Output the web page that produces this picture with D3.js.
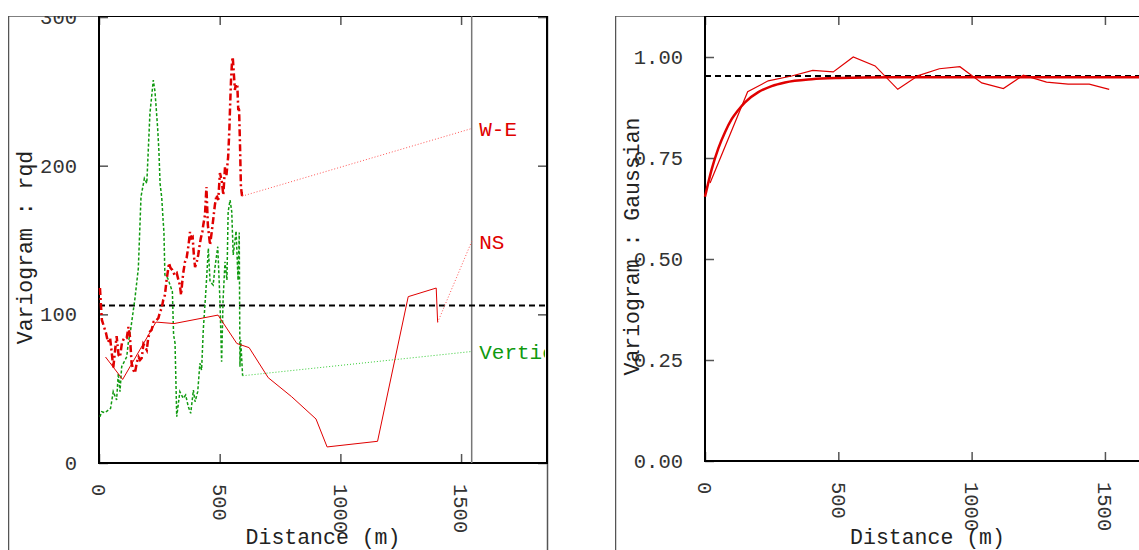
<!DOCTYPE html>
<html lang='en'>
<head>
<meta charset='utf8'>
<title>Variograms</title>
<script type="text/javascript" src="https://cdn.jsdelivr.net/npm/d3@7"></script>
<style>
    body { margin: 0; background: #fff; }
    svg text { font-family: 'Liberation Mono', 'DejaVu Sans Mono', monospace; }
</style>
</head>
<body>
<svg id='chart' width='1139' height='550'></svg>
<script type="text/javascript">
    // ---- left panel: rqd experimental variograms (distance m, gamma) ----
    var weData = [[4,117.7],[8,106.3],[12,96.2],[21,91.5],[29,87.4],[37,81.4],[46,84.1],[53,74.0],[59,63.9],[66,74.7],
        [73,85.4],[81,72.6],[87,71.3],[95,80.7],[104,84.1],[115,84.1],[122,91.5],[128,85.4],[135,67.3],[142,62.6],
        [149,60.5],[157,67.9],[164,71.3],[170,69.3],[177,70.6],[184,80.0],[191,78.2],[198,76.0],[204,84.1],[211,88.3],
        [218,89.5],[226,94.8],[232,94.8],[239,96.2],[246,97.5],[253,101.6],[260,104.3],[266,109.6],[273,113.0],[280,123.1],
        [286,129.8],[290,134.5],[296,131.2],[304,129.8],[313,126.5],[322,127.8],[329,123.1],[335,119.7],[340,113.0],[345,121.8],
        [349,127.8],[356,135.2],[363,137.9],[371,146.6],[377,155.4],[383,151.3],[388,152.0],[393,139.9],[398,131.8],[405,135.2],
        [411,139.9],[417,146.6],[422,151.3],[428,155.4],[432,160.1],[439,166.8],[445,185.7],[451,160.1],[460,146.6],[467,155.4],
        [473,163.5],[480,173.5],[487,180.3],[494,176.9],[501,195.1],[508,190.4],[515,180.3],[522,199.1],[528,193.7],[535,205.8],
        [540,224.0],[543,239.5],[547,257.6],[551,269.7],[554,273.1],[559,261.0],[563,250.9],[567,254.9],[573,254.3],[577,237.4],
        [580,239.5],[584,215.2],[588,185.7],[591,181.6],[593,179.5]];

    var nsData = [[27,71.3],[98,56.2],[236,94.8],[311,93.8],[493,99.5],[571,80.4],[622,77.6],[701,57.4],[798,44.6],
        [899,29.6],[945,10.8],[1154,14.6],[1281,111.9],[1397,117.7],[1403,94.6]];

    var vertData = [[4,31.1],[11,34.5],[25,33.8],[39,35.7],[48,36.8],[59,48.0],[73,42.4],[80,60.3],[87,48.0],[94,64.8],
        [115,71.5],[121,80.5],[131,89.5],[149,110.8],[163,131.0],[174,179.1],[188,191.5],[198,188.1],[211,235.2],[225,257.6],
        [232,249.8],[243,225.1],[248,210.5],[253,188.1],[260,178.3],[266,162.3],[269,155.6],[273,126.5],[285,124.2],[304,115.2],
        [309,86.1],[315,80.7],[322,31.1],[335,48.0],[349,43.5],[359,45.7],[370,37.9],[380,33.4],[391,49.1],[398,41.2],
        [409,48.0],[418,67.1],[425,62.6],[432,89.5],[443,116.4],[453,144.4],[460,122.0],[473,119.7],[480,131.0],[492,145.5],
        [501,109.6],[508,68.1],[514,109.6],[522,135.4],[530,123.1],[535,169.0],[543,176.9],[550,169.0],[556,139.9],[568,156.0],
        [576,123.0],[581,155.0],[584,64.8],[587,82.7],[595,58.7]];

    var leftSill = 106;
    var labelDist = 1544;
    var leftLabels = ['W-E', 'NS', 'Vertical'];
    var leftLabelGamma = [225, 149, 75];
    var leftXTicks = [0, 500, 1000, 1500];
    var leftYTicks = [0, 100, 200, 300];

    // ---- right panel: gaussian transformed variogram + exponential fit ----
    var gaussDist = [19, 160, 237, 325, 404, 481, 556, 638, 723, 800, 879, 956, 1038, 1119, 1194, 1281, 1362, 1441, 1516];
    var gaussGamma = [0.688, 0.914, 0.941, 0.953, 0.967, 0.963, 1.000, 0.978, 0.920, 0.954, 0.971, 0.976, 0.936, 0.922, 0.955, 0.938, 0.933, 0.933, 0.920];
    var modelDist = [0, 25, 50, 75, 100, 125, 150, 200, 250, 300, 400, 500, 700, 1000, 1700];
    var modelGamma = [0.654, 0.722, 0.774, 0.814, 0.846, 0.869, 0.888, 0.913, 0.928, 0.937, 0.945, 0.948, 0.950, 0.950, 0.950];
    var rightSill = 0.953;
    var rightXTicks = [0, 500, 1000, 1500];
    var rightYTicks = [0, 0.25, 0.5, 0.75, 1.0];

    var red = '#e00000';
    var green = '#109a10';
    var svg = d3.select('#chart');

    var makePanel = function(id, frame, plot, xDom, yDom, xTicks, yTicks, yFmt, yLabel) {
        svg.append('clipPath').attr('id', id + '-clip')
            .append('rect').attr('x', frame.x0).attr('y', frame.y0)
            .attr('width', frame.x1 - frame.x0 + 2).attr('height', frame.y1 - frame.y0);
        var g = svg.append('g').attr('clip-path', 'url(#' + id + '-clip)');

        var x = d3.scaleLinear().domain(xDom).range([plot.left, plot.right]);
        var y = d3.scaleLinear().domain(yDom).range([plot.bottom, plot.top]);

        g.append('rect')
            .attr('x', frame.x0 + 0.5).attr('y', frame.y0)
            .attr('width', frame.x1 - frame.x0).attr('height', frame.y1 - frame.y0)
            .attr('fill', 'none').attr('stroke', '#555').attr('stroke-width', 1.5);

        var styleAxis = function(a) {
            a.select('.domain').remove();
            a.selectAll('line').attr('stroke', '#555').attr('stroke-width', 1.5);
            a.selectAll('text').attr('font-size', 20.5).attr('fill', '#333')
                .attr('font-family', "'Liberation Mono', monospace");
        };

        g.append('g').attr('transform', 'translate(' + plot.left + ',0)')
            .call(d3.axisLeft(y).tickValues(yTicks).tickSize(-9).tickPadding(22).tickFormat(yFmt))
            .call(styleAxis);
        g.append('g').attr('transform', 'translate(' + plot.right + ',0)')
            .call(d3.axisRight(y).tickValues(yTicks).tickSize(-9).tickFormat(''))
            .call(styleAxis);
        g.append('g').attr('transform', 'translate(0,' + plot.top + ')')
            .call(d3.axisTop(x).tickValues(xTicks).tickSize(-9).tickFormat(''))
            .call(styleAxis);
        var bx = g.append('g').attr('transform', 'translate(0,' + plot.bottom + ')')
            .call(d3.axisBottom(x).tickValues(xTicks).tickSize(-9).tickFormat(d3.format('d')))
            .call(styleAxis);
        bx.selectAll('text')
            .attr('x', 21).attr('y', 0).attr('dy', '0.35em')
            .attr('text-anchor', 'start')
            .attr('transform', 'rotate(90)');

        g.append('rect')
            .attr('x', plot.left).attr('y', plot.top)
            .attr('width', plot.right - plot.left).attr('height', plot.bottom - plot.top)
            .attr('fill', 'none').attr('stroke', '#000').attr('stroke-width', 2);

        g.append('text')
            .attr('x', (plot.left + plot.right) / 2).attr('y', 544)
            .attr('text-anchor', 'middle').attr('font-size', 21.5).attr('fill', '#222')
            .text('Distance (m)');
        g.append('text')
            .attr('transform', 'translate(' + (frame.x0 + 24) + ',' + ((plot.top + plot.bottom) / 2 + 8) + ') rotate(-90)')
            .attr('text-anchor', 'middle').attr('font-size', 21.5).attr('fill', '#222')
            .text(yLabel);

        return {g: g, x: x, y: y};
    };

    // left panel
    var L = makePanel('left', {x0: 8, y0: 16, x1: 547, y1: 570}, {left: 99, top: 16, right: 547, bottom: 463},
        [0, 1856], [0, 300.7], leftXTicks, leftYTicks, d3.format('d'), 'Variogram : rqd');

    var lineL = d3.line().x(function(d) { return L.x(d[0]); }).y(function(d) { return L.y(d[1]); });

    L.g.append('line')
        .attr('x1', L.x(labelDist)).attr('x2', L.x(labelDist))
        .attr('y1', 16).attr('y2', 463)
        .attr('stroke', '#777').attr('stroke-width', 1.5);

    L.g.append('line')
        .attr('x1', L.x(0)).attr('x2', 547)
        .attr('y1', L.y(leftSill)).attr('y2', L.y(leftSill))
        .attr('stroke', '#000').attr('stroke-width', 2).attr('stroke-dasharray', '6,4');

    var series = [
        {data: vertData, color: green, width: 1.5, dash: '3,2', lead: '#3c3'},
        {data: weData, color: red, width: 2.5, dash: '7,3,2,3', lead: '#f55'},
        {data: nsData, color: red, width: 1, dash: null, lead: '#f66'}
    ];
    series.forEach(function(s) {
        L.g.append('path').datum(s.data)
            .attr('d', lineL)
            .attr('fill', 'none')
            .attr('stroke', s.color)
            .attr('stroke-width', s.width)
            .attr('stroke-dasharray', s.dash);
    });

    // leader lines + labels
    svg.append('clipPath').attr('id', 'label-clip')
        .append('rect').attr('x', 0).attr('y', 16).attr('width', 545).attr('height', 534);
    var leaders = [
        {data: weData, i: 0, color: red, lead: '#f55'},
        {data: nsData, i: 1, color: red, lead: '#f55'},
        {data: vertData, i: 2, color: green, lead: '#3c3'}
    ];
    leaders.forEach(function(s) {
        var last = s.data[s.data.length - 1];
        L.g.append('line')
            .attr('x1', L.x(last[0])).attr('y1', L.y(last[1]))
            .attr('x2', L.x(labelDist)).attr('y2', L.y(leftLabelGamma[s.i]))
            .attr('stroke', s.lead).attr('stroke-width', 1).attr('stroke-dasharray', '1,2');
        svg.append('text')
            .attr('clip-path', 'url(#label-clip)')
            .attr('x', L.x(labelDist) + 7.5).attr('y', L.y(leftLabelGamma[s.i]))
            .attr('dy', '0.35em').attr('font-size', 21).attr('fill', s.color)
            .text(leftLabels[s.i]);
    });

    // right panel
    var R = makePanel('right', {x0: 615, y0: 16, x1: 1150, y1: 570}, {left: 705, top: 16, right: 1150, bottom: 461},
        [0, 1669], [0, 1.1015], rightXTicks, rightYTicks, d3.format('.2f'), 'Variogram : Gaussian');

    R.g.append('line')
        .attr('x1', R.x(0)).attr('x2', 1150)
        .attr('y1', R.y(rightSill)).attr('y2', R.y(rightSill))
        .attr('stroke', '#000').attr('stroke-width', 2).attr('stroke-dasharray', '6,4');

    R.g.append('path').datum(d3.zip(gaussDist, gaussGamma))
        .attr('d', d3.line().x(function(d) { return R.x(d[0]); }).y(function(d) { return R.y(d[1]); }))
        .attr('fill', 'none').attr('stroke', red).attr('stroke-width', 1.2);

    R.g.append('path').datum(d3.zip(modelDist, modelGamma))
        .attr('d', d3.line().curve(d3.curveMonotoneX)
            .x(function(d) { return R.x(d[0]); }).y(function(d) { return R.y(d[1]); }))
        .attr('fill', 'none').attr('stroke', red).attr('stroke-width', 2.5);
</script>
</body>
</html>
